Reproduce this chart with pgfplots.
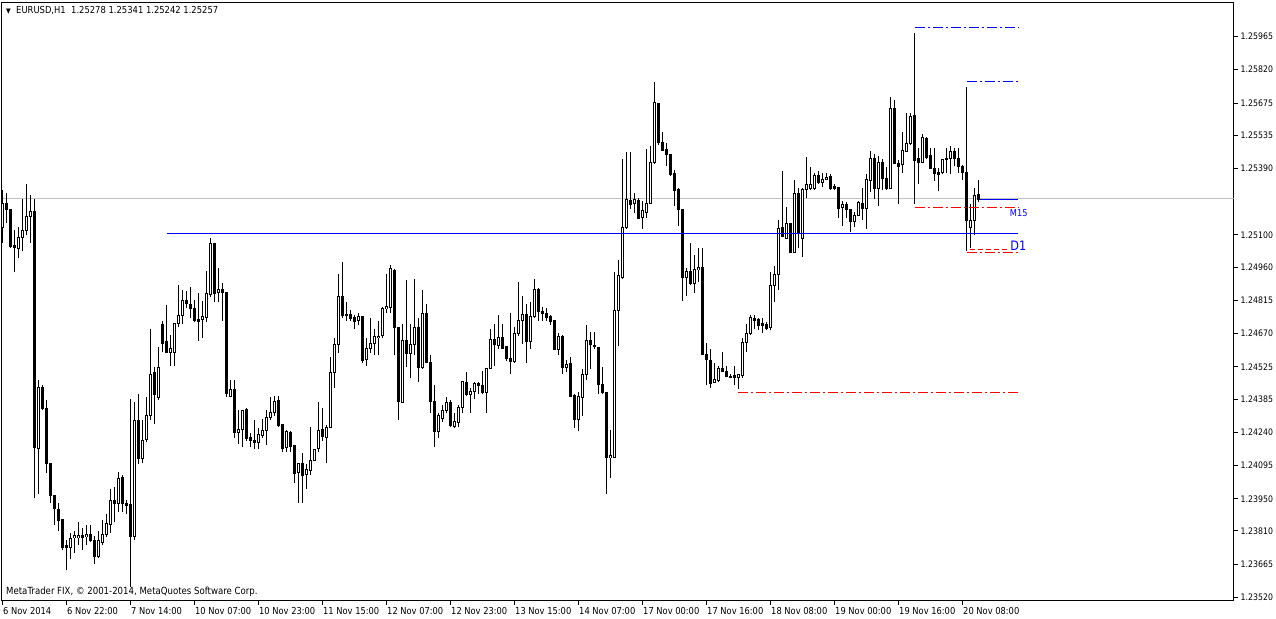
\documentclass[border=0pt]{standalone}
\usepackage{pgfplots}
\pgfplotsset{compat=1.18}
\usepackage{pgfplotstable}
\usepackage{fontspec}
\setmainfont{DejaVu Sans}[FakeStretch=0.87]
\definecolor{mtblue}{RGB}{0,0,255}
\definecolor{mtred}{RGB}{255,0,0}
\definecolor{mtgray}{RGB}{192,192,192}

% EURUSD H1, one row per bar: index, open, high, low, close (in points, 1e-5)
\pgfplotstableread{
i o h l c
0 125133 125294 125067 125237
1 125237 125281 125154 125211
2 125211 125211 125045 125050
3 125054 125120 124937 125045
4 125041 125133 124998 125089
5 125089 125255 125032 125120
6 125120 125324 125098 125181
7 125181 125272 125067 125202
8 125202 125255 123952 124174
9 124169 124466 123973 124435
10 124435 124444 124335 124344
11 124344 124379 124061 124104
12 124104 124104 123934 123965
13 123965 123965 123838 123908
14 123904 123930 123812 123856
15 123860 123860 123725 123738
16 123747 123769 123638 123738
17 123738 123799 123690 123777
18 123782 123812 123712 123790
19 123782 123851 123747 123790
20 123790 123821 123725 123782
21 123786 123838 123747 123795
22 123795 123834 123760 123769
23 123769 123790 123668 123699
24 123699 123812 123694 123769
25 123760 123856 123747 123795
26 123795 123886 123782 123843
27 123838 123995 123803 123943
28 123943 124000 123847 123930
29 123930 124065 123891 124039
30 124043 124052 123891 123930
31 123930 123943 123886 123921
32 123925 124387 123564 123786
33 123786 124374 123769 124292
34 124292 124405 124100 124126
35 124126 124292 124108 124204
36 124209 124392 124196 124313
37 124313 124688 124292 124492
38 124501 124523 124278 124405
39 124392 124610 124379 124523
40 124710 124723 124588 124627
41 124636 124793 124588 124588
42 124588 124662 124531 124605
43 124588 124714 124527 124714
44 124714 124884 124697 124749
45 124749 124858 124710 124815
46 124815 124854 124780 124801
47 124797 124871 124736 124780
48 124780 124815 124719 124727
49 124732 124849 124636 124723
50 124732 124810 124653 124745
51 124740 124941 124719 124845
52 124841 125085 124828 125063
53 125063 125067 124806 124845
54 124849 124954 124806 124862
55 124862 124889 124727 124849
56 124849 124849 124392 124409
57 124396 124466 124392 124427
58 124427 124466 124217 124239
59 124239 124335 124191 124252
60 124252 124335 124174 124335
61 124339 124344 124204 124213
62 124217 124239 124174 124204
63 124204 124292 124169 124196
64 124196 124257 124169 124230
65 124226 124300 124217 124248
66 124248 124335 124183 124305
67 124305 124392 124292 124326
68 124326 124400 124309 124374
69 124379 124400 124265 124270
70 124274 124278 124152 124169
71 124174 124252 124156 124244
72 124239 124244 124152 124178
73 124183 124183 124017 124061
74 124065 124104 123934 124104
75 124104 124148 123934 124052
76 124056 124104 123995 124078
77 124074 124265 124052 124117
78 124117 124169 124113 124165
79 124169 124370 124152 124248
80 124252 124344 124204 124222
81 124217 124270 124108 124261
82 124261 124566 124257 124501
83 124501 124649 124435 124623
84 124623 124932 124584 124832
85 124832 124980 124740 124749
86 124753 124806 124727 124749
87 124753 124771 124727 124736
88 124740 124749 124688 124723
89 124727 124758 124706 124745
90 124745 124745 124544 124553
91 124557 124649 124527 124605
92 124605 124736 124584 124627
93 124627 124688 124575 124658
94 124653 124727 124575 124658
95 124662 124784 124649 124780
96 124780 124928 124758 124788
97 124784 124967 124758 124954
98 124945 124950 124575 124697
99 124697 124697 124292 124374
100 124370 124714 124370 124640
101 124640 124902 124523 124584
102 124584 124714 124475 124623
103 124623 124910 124575 124697
104 124697 124740 124461 124523
105 124523 124858 124518 124758
106 124758 124801 124544 124544
107 124544 124579 124326 124374
108 124374 124444 124178 124244
109 124244 124326 124217 124313
110 124300 124361 124283 124335
111 124335 124392 124322 124370
112 124370 124379 124261 124270
113 124265 124322 124257 124287
114 124283 124357 124261 124348
115 124348 124461 124326 124461
116 124457 124501 124400 124405
117 124405 124435 124322 124418
118 124418 124461 124383 124453
119 124453 124461 124409 124444
120 124444 124505 124409 124414
121 124414 124518 124326 124518
122 124518 124692 124514 124645
123 124645 124710 124531 124623
124 124618 124749 124605 124653
125 124653 124710 124605 124605
126 124614 124618 124549 124562
127 124562 124758 124496 124549
128 124549 124697 124544 124671
129 124671 124893 124658 124727
130 124727 124832 124623 124753
131 124753 124801 124540 124636
132 124636 124806 124601 124745
133 124745 124906 124740 124862
134 124862 124867 124727 124767
135 124767 124784 124727 124758
136 124758 124780 124727 124740
137 124745 124753 124706 124723
138 124727 124727 124597 124601
139 124601 124671 124575 124658
140 124658 124662 124496 124523
141 124523 124557 124501 124536
142 124540 124566 124396 124396
143 124400 124409 124257 124296
144 124296 124414 124244 124396
145 124392 124514 124309 124492
146 124492 124706 124466 124640
147 124640 124675 124518 124623
148 124618 124675 124605 124614
149 124610 124610 124409 124448
150 124448 124523 124409 124414
151 124414 124414 123973 124130
152 124130 124248 124043 124139
153 124130 124937 124130 124771
154 124771 124989 124614 124923
155 124915 125429 124910 125133
156 125133 125460 125128 125255
157 125250 125460 125215 125233
158 125237 125281 125194 125255
159 125250 125263 125172 125172
160 125176 125250 125128 125207
161 125198 125473 125176 125237
162 125237 125486 125237 125416
163 125416 125765 125407 125677
164 125673 125673 125490 125503
165 125503 125547 125468 125468
166 125473 125499 125399 125451
167 125451 125451 125359 125364
168 125368 125385 125224 125294
169 125298 125303 125137 125211
170 125211 125211 124810 124915
171 124915 124958 124836 124941
172 124941 125063 124884 124889
173 124889 125011 124849 124950
174 124950 125045 124893 124958
175 124958 125041 124579 124579
176 124579 124631 124448 124557
177 124553 124605 124435 124453
178 124457 124544 124457 124470
179 124466 124531 124461 124518
180 124518 124588 124501 124505
181 124505 124531 124479 124483
182 124483 124496 124475 124483
183 124488 124531 124444 124479
184 124479 124496 124427 124492
185 124488 124649 124475 124631
186 124631 124714 124592 124671
187 124671 124753 124666 124740
188 124736 124749 124688 124727
189 124732 124740 124684 124706
190 124714 124736 124671 124706
191 124710 124719 124684 124692
192 124697 124937 124684 124880
193 124880 124963 124806 124928
194 124928 125163 124862 125128
195 125133 125377 125089 125093
196 125085 125220 125085 125150
197 125150 125154 125024 125024
198 125024 125338 125024 125281
199 125281 125303 125041 125107
200 125085 125303 125002 125298
201 125298 125438 125259 125320
202 125303 125394 125298 125320
203 125303 125368 125298 125359
204 125359 125377 125324 125329
205 125329 125368 125307 125342
206 125342 125368 125338 125351
207 125355 125364 125298 125303
208 125311 125324 125294 125303
209 125307 125307 125176 125215
210 125220 125250 125141 125233
211 125233 125242 125172 125211
212 125211 125211 125111 125159
213 125159 125198 125133 125185
214 125185 125246 125181 125242
215 125237 125303 125163 125215
216 125215 125364 125128 125342
217 125338 125464 125285 125433
218 125433 125451 125255 125303
219 125303 125446 125224 125416
220 125416 125433 125294 125346
221 125346 125394 125294 125303
222 125303 125699 125303 125651
223 125651 125686 125407 125412
224 125412 125425 125233 125399
225 125407 125547 125372 125468
226 125464 125630 125460 125499
227 125499 125630 125490 125616
228 125621 125978 125237 125425
229 125433 125477 125324 125416
230 125416 125538 125412 125525
231 125521 125529 125433 125438
232 125446 125481 125390 125390
233 125390 125477 125333 125368
234 125372 125390 125290 125364
235 125372 125429 125364 125429
236 125429 125481 125368 125433
237 125433 125486 125364 125464
238 125464 125481 125399 125433
239 125433 125477 125368 125399
240 125399 125407 125338 125372
241 125372 125743 125032 125163
242 125133 125233 125041 125163
243 125163 125303 125098 125272
244 125278 125341 125242 125257
}\candles

\begin{document}
\begin{tikzpicture}
\fill[white] (0,0) rectangle (1276bp,619bp);
\path[use as bounding box] (0,0) rectangle (1276bp,619bp);
\begin{axis}[
  at={(1.5bp,18.5bp)}, anchor=south west,
  scale only axis, width=1232bp, height=598bp,
  xmin=-0.25, xmax=307.75, ymin=123507, ymax=126113,
  axis line style={black, line width=1bp},
  tick align=outside, major tick length=4bp,
  tick style={black, line width=1bp},
  xtick pos=left, xticklabel pos=left,
  ytick pos=right, yticklabel pos=right,
  scaled x ticks=false, scaled y ticks=false,
  xtick={0,16,...,240},
  xticklabels={6 Nov 2014, 6 Nov 22:00, 7 Nov 14:00, 10 Nov 07:00, 10 Nov 23:00,
    11 Nov 15:00, 12 Nov 07:00, 12 Nov 23:00, 13 Nov 15:00, 14 Nov 07:00,
    17 Nov 00:00, 17 Nov 16:00, 18 Nov 08:00, 19 Nov 00:00, 19 Nov 16:00, 20 Nov 08:00},
  xticklabel style={anchor=north west, inner sep=0pt, xshift=0.5bp, yshift=-2.5bp,
    font=\fontsize{9.6}{10}\selectfont},
  ytick={125965,125820,125675,125535,125390,125100,124960,124815,124670,
    124525,124385,124240,124095,123950,123810,123665,123520},
  yticklabels={1.25965,1.25820,1.25675,1.25535,1.25390,1.25100,1.24960,1.24815,1.24670,
    1.24525,1.24385,1.24240,1.24095,1.23950,1.23810,1.23665,1.23520},
  yticklabel style={anchor=west, inner sep=0pt, xshift=3bp, font=\fontsize{9}{10}\selectfont},
]
% current bid line
\addplot[draw=mtgray, line width=1bp, forget plot] coordinates {(-0.25,125257) (307.75,125257)};
% wicks
\addplot[draw=none, mark=none, forget plot,
  error bars/.cd, y dir=plus, y explicit, error mark=none,
  error bar style={draw=black, solid, line width=1bp}]
  table[x=i, y=l, y error plus expr=\thisrow{h}-\thisrow{l}] {\candles};
% bearish bodies
\addplot[draw=none, mark=none, forget plot,
  restrict expr to domain={\thisrow{o}-\thisrow{c}}{0:100000},
  error bars/.cd, y dir=both, y explicit, error mark=none,
  error bar style={draw=black, solid, line width=3bp}]
  table[x=i, y expr=(\thisrow{o}+\thisrow{c})/2,
    y error expr=abs(\thisrow{o}-\thisrow{c})/2+2.18] {\candles};
% bullish bodies: outline, then white inside
\addplot[draw=none, mark=none, forget plot,
  restrict expr to domain={\thisrow{c}-\thisrow{o}}{0.5:100000},
  error bars/.cd, y dir=both, y explicit, error mark=none,
  error bar style={draw=black, solid, line width=3bp}]
  table[x=i, y expr=(\thisrow{o}+\thisrow{c})/2,
    y error expr=(\thisrow{c}-\thisrow{o})/2+2.18] {\candles};
\addplot[draw=none, mark=none, forget plot,
  restrict expr to domain={\thisrow{c}-\thisrow{o}}{0.5:100000},
  error bars/.cd, y dir=both, y explicit, error mark=none,
  error bar style={draw=white, solid, line width=1bp}]
  table[x=i, y expr=(\thisrow{o}+\thisrow{c})/2,
    y error expr={max((\thisrow{c}-\thisrow{o})/2-2.18,0)}] {\candles};
% level lines
\addplot[draw=mtblue, mark=none, solid, line width=1bp] coordinates {(41.1,125107) (253.9,125107)};
\addplot[draw=mtred, mark=none, line width=1bp, dash pattern=on 10bp off 3bp on 2bp off 3bp] coordinates {(183.9,124414) (253.9,124414)};
\addplot[draw=mtblue, mark=none, line width=1bp, dash pattern=on 10bp off 3bp on 2bp off 3bp] coordinates {(228.1,126004) (253.9,126004)};
\addplot[draw=mtred, mark=none, line width=1bp, dash pattern=on 10bp off 3bp on 2bp off 3bp] coordinates {(228.1,125220) (253.9,125220)};
\addplot[draw=mtblue, mark=none, line width=1bp, dash pattern=on 10bp off 3bp on 2bp off 3bp] coordinates {(241.1,125769) (253.9,125769)};
\addplot[draw=mtred, mark=none, line width=1bp, dash pattern=on 5bp off 3bp] coordinates {(241.9,125037) (251.4,125037)};
\addplot[draw=mtred, mark=none, line width=1bp, dash pattern=on 10bp off 3bp on 2bp off 3bp] coordinates {(241.1,125024) (253.9,125024)};
\addplot[draw=mtblue, mark=none, solid, line width=1bp] coordinates {(244.4,125255) (253.9,125255)};
% labels
\node[text=mtblue, anchor=west, inner sep=0pt, font=\fontsize{9.5}{10}\selectfont] at (axis cs:251.8,125196) {M15};
\node[text=mtblue, anchor=west, inner sep=0pt, font=\fontsize{13}{14}\selectfont] at (axis cs:251.9,125052) {D1};
\node[fill=black, text=white, anchor=west, inner sep=0pt, minimum width=42bp, minimum height=12bp,
  font=\fontsize{9}{10}\selectfont] at (axis cs:307.75,125257) {1.25257};
\end{axis}
\node[anchor=west, inner sep=0pt] at (6bp,609bp)
  {\fontsize{7}{8}\selectfont▼\fontsize{9.7}{10}\selectfont\ \ EURUSD,H1\ \ 1.25278 1.25341 1.25242 1.25257};
\node[anchor=west, inner sep=0pt, font=\fontsize{9.9}{11}\selectfont] at (6bp,27bp)
  {MetaTrader FIX, © 2001-2014, MetaQuotes Software Corp.};
\end{tikzpicture}
\end{document}
